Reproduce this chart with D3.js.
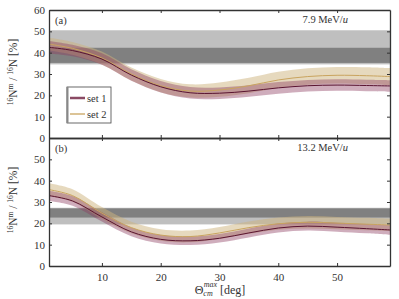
<!DOCTYPE html>
<html><head><meta charset="utf-8">
<script src="https://cdn.jsdelivr.net/npm/d3@7"></script>
<style>body{margin:0;background:#fff}svg{display:block}svg text{font-family:"Liberation Serif","Times New Roman","DejaVu Serif",serif !important;fill:#333}</style>
</head><body><svg id="c" width="399" height="299"></svg>
<script>
const theta = [1, 5, 10, 15, 20, 25, 30, 35, 40, 45, 50, 55, 59];
// panel (a) 7.9 MeV/u
const aSet1 = [42.5, 41, 37, 29.5, 24, 21.2, 21, 22, 23.5, 24.5, 24.8, 24.6, 24.4];
const aSet1Lo = [39.5, 38.3, 34.3, 26.8, 21.3, 18.5, 18.3, 19.3, 20.8, 21.8, 22.1, 21.9, 21.7];
const aSet1Hi = [45.5, 43.7, 39.7, 32.2, 26.7, 23.9, 23.7, 24.7, 26.2, 27.2, 27.5, 27.3, 27.1];
const aSet2 = [44, 42, 37.5, 30, 24.5, 22, 22.5, 24.5, 27.2, 28.8, 29.4, 29.2, 28.8];
const aSet2Lo = [41, 39, 34.5, 27, 21.5, 19, 19.3, 21, 23.5, 25, 25.5, 25.2, 24.8];
const aSet2Hi = [47, 45, 40.5, 33, 27.7, 25.2, 26, 28.2, 31, 32.7, 33.3, 33.2, 32.8];
const aExpLight = [34.5, 50.5];
const aExpDark = [35.2, 42.3];
// panel (b) 13.2 MeV/u
const bSet1 = [33, 30.5, 23, 16, 12.5, 11.8, 13, 15.5, 17.8, 18.7, 18.2, 17.5, 16.9];
const bSet1Lo = [30.5, 28.3, 20.9, 14, 10.6, 9.8, 11, 13.4, 15.7, 16.6, 16.1, 15.3, 14.6];
const bSet1Hi = [35.3, 32.8, 25.2, 18.1, 14.5, 13.8, 15, 17.6, 19.9, 20.8, 20.3, 19.7, 19.2];
const bSet2 = [35.8, 33, 24.8, 18, 14.5, 13.8, 15.5, 18, 19.8, 20.5, 20.1, 19.6, 19.2];
const bSet2Lo = [32.7, 30.1, 22, 15.3, 11.8, 11.1, 12.7, 15.1, 17, 17.6, 17.2, 16.7, 16.2];
const bSet2Hi = [38.8, 36, 27.6, 20.7, 17.2, 16.6, 18.3, 20.9, 22.7, 23.4, 23, 22.6, 22.2];
const bExpLight = [19.5, 27.3];
const bExpDark = [22.7, 27];
const xTicks = [10, 20, 30, 40, 50];
const yTicksA = [0, 10, 20, 30, 40, 50, 60];
const yTicksB = [0, 10, 20, 30, 40, 50];
const seriesNames = ["set 1", "set 2"];

const FONT = '"Liberation Serif","Times New Roman","DejaVu Serif",serif';
const svg = d3.select("#c");
const L = 49, R = 390;
const x = d3.scaleLinear().domain([1, 59]).range([L, R]);
const col = {l1: "#5a1430", b1: "rgba(140,60,95,0.42)", l2: "#c9a45f", b2: "rgba(205,180,125,0.5)"};
const crv = d3.curveCatmullRom.alpha(0.5);

function panel(top, bottom, d, yt, label, energy, xlabels) {
  const y = d3.scaleLinear().domain([0, 60]).range([bottom, top]);
  const g = svg.append("g");
  const clipId = "clip" + label.replace(/\W/g, "");
  svg.append("clipPath").attr("id", clipId).append("rect").attr("x", L).attr("y", top).attr("width", R - L).attr("height", bottom - top);
  const pg = g.append("g").attr("clip-path", `url(#${clipId})`);
  pg.append("rect").attr("x", L).attr("width", R - L).attr("y", y(d.light[1])).attr("height", y(d.light[0]) - y(d.light[1])).attr("fill", "#bfbfbf");
  pg.append("rect").attr("x", L).attr("width", R - L).attr("y", y(d.dark[1])).attr("height", y(d.dark[0]) - y(d.dark[1])).attr("fill", "#808080");
  const area = d3.area().x((v, i) => x(theta[i])).y0((v, i) => y(v[0])).y1((v, i) => y(v[1])).curve(crv);
  const line = d3.line().x((v, i) => x(theta[i])).y(v => y(v)).curve(crv);
  pg.append("path").attr("d", area(d.s2lo.map((v, i) => [v, d.s2hi[i]]))).attr("fill", col.b2);
  pg.append("path").attr("d", area(d.s1lo.map((v, i) => [v, d.s1hi[i]]))).attr("fill", col.b1);
  pg.append("path").attr("d", line(d.s2)).attr("fill", "none").attr("stroke", col.l2).attr("stroke-width", 1);
  pg.append("path").attr("d", line(d.s1)).attr("fill", "none").attr("stroke", col.l1).attr("stroke-width", 1);
  // axes
  const ax = g.append("g").attr("transform", `translate(0,${bottom})`).call(d3.axisBottom(x).tickValues(xTicks).tickSizeInner(-3).tickSizeOuter(0).tickFormat(xlabels ? d3.format("d") : ""));
  const axT = g.append("g").attr("transform", `translate(0,${top})`).call(d3.axisTop(x).tickValues(xTicks).tickSizeInner(-3).tickSizeOuter(0).tickFormat(""));
  const ay = g.append("g").attr("transform", `translate(${L},0)`).call(d3.axisLeft(y).tickValues(yt).tickSizeInner(-3).tickSizeOuter(0).tickFormat(d3.format("d")));
  const ayR = g.append("g").attr("transform", `translate(${R},0)`).call(d3.axisRight(y).tickValues(yt).tickSizeInner(-3).tickSizeOuter(0).tickFormat(""));
  [ax, axT, ay, ayR].forEach(a => {
    a.attr("font-family", FONT);
    a.select(".domain").attr("stroke", "#333").attr("stroke-width", 1.3);
    a.selectAll(".tick line").attr("stroke", "#333");
    a.selectAll(".tick text").attr("font-size", 11).attr("fill", "#444");
  });
  ay.selectAll(".tick text").attr("x", -4);
  ax.selectAll(".tick text").attr("y", 7);
  g.append("text").attr("x", 55).attr("y", top + 14).attr("font-size", 10.5).text(label);
  const et = g.append("text").attr("x", 348).attr("y", top + 13).attr("font-size", 10.5).attr("text-anchor", "end");
  et.append("tspan").text(energy + " MeV/");
  et.append("tspan").attr("font-style", "italic").text("u");
  // y label
  const cy = (top + bottom) / 2 - 2;
  const yl = g.append("text").attr("transform", `translate(17,${cy}) rotate(-90)`).attr("text-anchor", "middle").attr("font-size", 11.5);
  yl.append("tspan").attr("font-size", 7.5).attr("dy", -4).text("16");
  yl.append("tspan").attr("dy", 4).text("N");
  yl.append("tspan").attr("font-size", 7.5).attr("dy", -4).text("m");
  yl.append("tspan").attr("dy", 4).text(" / ");
  yl.append("tspan").attr("font-size", 7.5).attr("dy", -4).text("16");
  yl.append("tspan").attr("dy", 4).text("N [%]");
  return y;
}

panel(10, 138, {light: aExpLight, dark: aExpDark, s1: aSet1, s1lo: aSet1Lo, s1hi: aSet1Hi, s2: aSet2, s2lo: aSet2Lo, s2hi: aSet2Hi}, yTicksA, "(a)", "7.9", false);
panel(138, 266, {light: bExpLight, dark: bExpDark, s1: bSet1, s1lo: bSet1Lo, s1hi: bSet1Hi, s2: bSet2, s2lo: bSet2Lo, s2hi: bSet2Hi}, yTicksB, "(b)", "13.2", true);

// legend
const lg = svg.append("g");
lg.append("rect").attr("x", 67).attr("y", 87).attr("width", 44).attr("height", 36).attr("fill", "#fff").attr("stroke", "#444").attr("stroke-width", 0.8);
lg.append("line").attr("x1", 67.5).attr("x2", 67.5).attr("y1", 87).attr("y2", 123).attr("stroke", "#888").attr("stroke-width", 2);
const lwid = [2.5, 1.3];
seriesNames.forEach((n, i) => {
  const yy = 98 + i * 16;
  lg.append("line").attr("x1", 70).attr("x2", 85).attr("y1", yy).attr("y2", yy).attr("stroke", i === 0 ? "#8a4a64" : col.l2).attr("stroke-width", lwid[i]);
  lg.append("text").attr("x", 87).attr("y", yy + 3.5).attr("font-size", 10.5).text(n);
});

// x label
const xl = svg.append("text").attr("x", 220).attr("y", 294).attr("text-anchor", "middle").attr("font-size", 12);
xl.append("tspan").text("Θ");
xl.append("tspan").attr("font-size", 8).attr("font-style", "italic").attr("dy", 2).text("cm");
xl.append("tspan").attr("font-size", 8).attr("font-style", "italic").attr("dx", -9).attr("dy", -9).text("max");
xl.append("tspan").attr("dy", 7).text(" [deg]");
</script></body></html>
